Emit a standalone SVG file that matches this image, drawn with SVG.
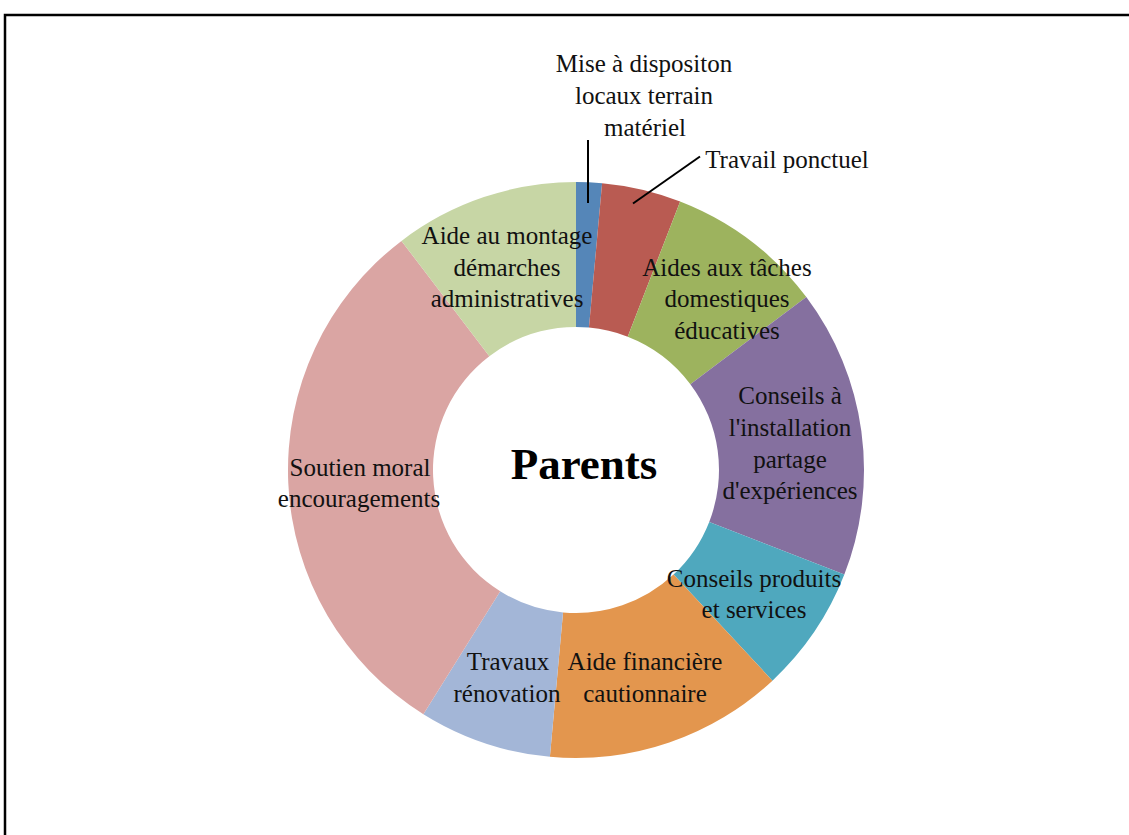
<svg xmlns="http://www.w3.org/2000/svg" width="1129" height="835" viewBox="0 0 1129 835">
<style>
.lbl{font-family:"Liberation Serif","Times New Roman",serif;font-size:25px;fill:#111;text-anchor:middle}
.title{font-family:"Liberation Serif","Times New Roman",serif;font-size:45px;font-weight:bold;fill:#000;text-anchor:middle}
.lead{stroke:#000;stroke-width:2;fill:none}
</style>
<rect width="1129" height="835" fill="#fff"/>
<path d="M5,835 V15 H1129" fill="none" stroke="#000" stroke-width="2.5"/>
<g id="slice-mise"><path d="M576,182 A288,288 0 0 1 602.10,183.19 L588.96,327.59 A143,143 0 0 0 576,327 Z" fill="#5586B8"/></g>
<g id="slice-travail"><path d="M602.10,183.19 A288,288 0 0 1 680.15,201.49 L627.71,336.68 A143,143 0 0 0 588.96,327.59 Z" fill="#B95B52"/></g>
<g id="slice-taches"><path d="M680.15,201.49 A288,288 0 0 1 806.31,297.08 L690.35,384.14 A143,143 0 0 0 627.71,336.68 Z" fill="#9DB35E"/></g>
<g id="slice-installation"><path d="M806.31,297.08 A288,288 0 0 1 844.33,574.62 L709.23,521.94 A143,143 0 0 0 690.35,384.14 Z" fill="#85709F"/></g>
<g id="slice-produits"><path d="M844.33,574.62 A288,288 0 0 1 772.42,680.63 L673.53,574.58 A143,143 0 0 0 709.23,521.94 Z" fill="#4FA8BE"/></g>
<g id="slice-financiere"><path d="M772.42,680.63 A288,288 0 0 1 549.90,756.81 L563.04,612.41 A143,143 0 0 0 673.53,574.58 Z" fill="#E3964E"/></g>
<g id="slice-travaux"><path d="M549.90,756.81 A288,288 0 0 1 423.38,714.24 L500.22,591.27 A143,143 0 0 0 563.04,612.41 Z" fill="#A3B6D7"/></g>
<g id="slice-soutien"><path d="M423.38,714.24 A288,288 0 0 1 401.47,240.90 L489.34,356.25 A143,143 0 0 0 500.22,591.27 Z" fill="#DAA5A3"/></g>
<g id="slice-montage"><path d="M401.47,240.90 A288,288 0 0 1 576,182 L576,327 A143,143 0 0 0 489.34,356.25 Z" fill="#C7D6A5"/></g>
<g id="connectors">
<line class="lead" x1="588" y1="140" x2="588" y2="203"/>
<line class="lead" x1="700" y1="156.5" x2="633" y2="203.5"/>
</g>
<g id="label-mise"><text class="lbl" x="644" y="72">Mise à dispositon</text><text class="lbl" x="644" y="104">locaux terrain</text><text class="lbl" x="645" y="136">matériel</text></g>
<g id="label-travail"><text class="lbl" x="787" y="168">Travail ponctuel</text></g>
<g id="label-montage"><text class="lbl" x="507" y="244">Aide au montage</text><text class="lbl" x="507" y="276">démarches</text><text class="lbl" x="507" y="307">administratives</text></g>
<g id="label-taches"><text class="lbl" x="727" y="276">Aides aux tâches</text><text class="lbl" x="727" y="307">domestiques</text><text class="lbl" x="727" y="339">éducatives</text></g>
<g id="label-installation"><text class="lbl" x="790" y="404">Conseils à</text><text class="lbl" x="790" y="436">l'installation</text><text class="lbl" x="790" y="468">partage</text><text class="lbl" x="790" y="499">d'expériences</text></g>
<g id="label-produits"><text class="lbl" x="754" y="587">Conseils produits</text><text class="lbl" x="754" y="618">et services</text></g>
<g id="label-financiere"><text class="lbl" x="645" y="670">Aide financière</text><text class="lbl" x="645" y="702">cautionnaire</text></g>
<g id="label-travaux"><text class="lbl" x="508" y="670">Travaux</text><text class="lbl" x="507" y="702">rénovation</text></g>
<g id="label-soutien"><text class="lbl" x="360" y="476">Soutien moral</text><text class="lbl" x="359" y="507">encouragements</text></g>
<g id="center"><text class="title" x="584" y="479">Parents</text></g>
</svg>
